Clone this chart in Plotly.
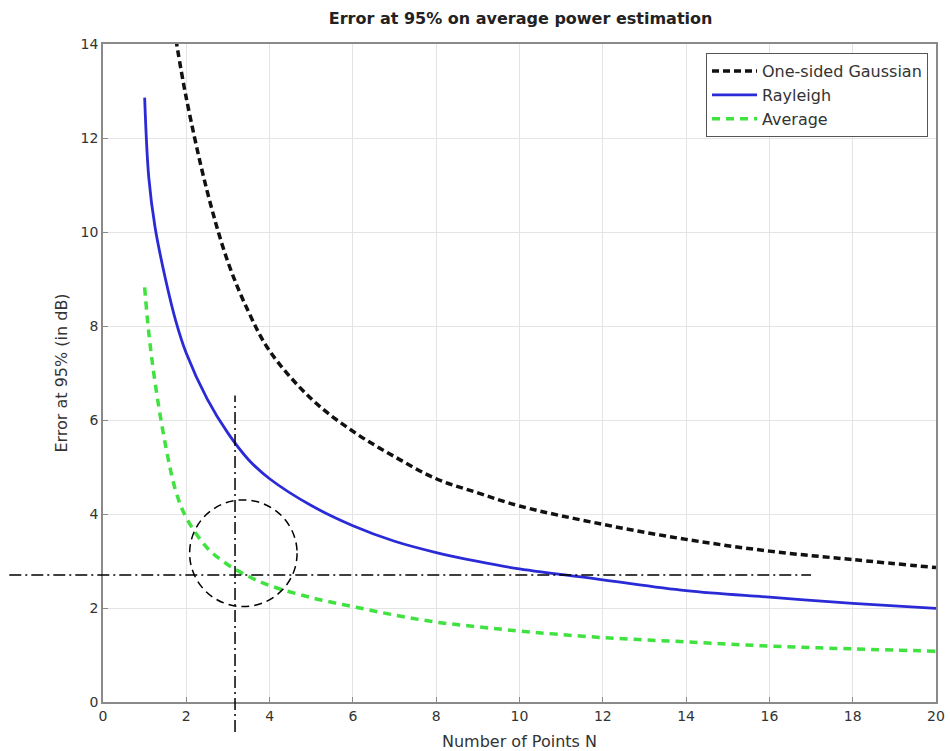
import plotly.graph_objects as go

# ---- data ----
n_gauss = [1.75, 2, 2.5, 3, 3.5, 4, 5, 6, 7, 8, 9, 10, 12, 14, 16, 18, 20]
err_gauss = [14.1, 12.85, 10.87, 9.36, 8.29, 7.47, 6.45, 5.76, 5.22, 4.75, 4.45, 4.17, 3.78, 3.46, 3.21, 3.03, 2.86]

n_rayl = [1, 1.1, 1.25, 1.5, 1.75, 2, 2.5, 3, 3.5, 4, 5, 6, 7, 8, 9, 10, 12, 14, 16, 18, 20]
err_rayl = [12.86, 11.15, 10.1, 9.0, 8.1, 7.42, 6.45, 5.72, 5.15, 4.75, 4.18, 3.75, 3.42, 3.18, 2.99, 2.83, 2.60, 2.37, 2.23, 2.10, 1.99]

n_avg = [1, 1.1, 1.25, 1.5, 1.75, 2, 2.5, 3, 3.5, 4, 5, 6, 7, 8, 9, 10, 12, 14, 16, 18, 20]
err_avg = [8.82, 7.85, 6.80, 5.47, 4.48, 3.92, 3.28, 2.92, 2.67, 2.48, 2.22, 2.03, 1.85, 1.70, 1.60, 1.51, 1.37, 1.28, 1.19, 1.13, 1.08]

x_ticks = [0, 2, 4, 6, 8, 10, 12, 14, 16, 18, 20]
y_ticks = [0, 2, 4, 6, 8, 10, 12, 14]

X_RANGE = [0, 20]
Y_RANGE = [0, 14]

# reference marks (dash-dot crosshair and dashed circle)
ref_n = 3.17
ref_err = 2.70
h_line_n = [-2.25, 17.0]
v_line_err = [-0.64, 6.52]
circle_n = [2.08, 4.66]
circle_err = [2.03, 4.30]

fig = go.Figure()
fig.add_trace(go.Scatter(x=n_gauss, y=err_gauss, mode="lines", name="One-sided Gaussian",
                         line=dict(color="#111111", width=3.5, dash="7px,4px", shape="spline")))
fig.add_trace(go.Scatter(x=n_rayl, y=err_rayl, mode="lines", name="Rayleigh",
                         line=dict(color="#2a2ad6", width=2.8, shape="spline")))
fig.add_trace(go.Scatter(x=n_avg, y=err_avg, mode="lines", name="Average",
                         line=dict(color="#3fe23f", width=3.5, dash="8px,6px", shape="spline")))

def px_x(v):
    return (v - X_RANGE[0]) / (X_RANGE[1] - X_RANGE[0])

def px_y(v):
    return (v - Y_RANGE[0]) / (Y_RANGE[1] - Y_RANGE[0])

dd = dict(color="black", width=1.5, dash="12px,4px,2px,4px")
fig.add_shape(type="line", xref="paper", yref="paper",
              x0=px_x(h_line_n[0]), x1=px_x(h_line_n[1]), y0=px_y(ref_err), y1=px_y(ref_err), line=dd)
fig.add_shape(type="line", xref="paper", yref="paper",
              x0=px_x(ref_n), x1=px_x(ref_n), y0=px_y(v_line_err[0]), y1=px_y(v_line_err[1]), line=dd)
fig.add_shape(type="circle", xref="x", yref="y",
              x0=circle_n[0], x1=circle_n[1], y0=circle_err[0], y1=circle_err[1],
              line=dict(color="black", width=1.5, dash="8px,5px"))

font_main = "DejaVu Sans, Liberation Sans, Arial, sans-serif"
axis_common = dict(showgrid=True, gridcolor="#e4e4e4", gridwidth=1, zeroline=False,
                   showline=True, linecolor="#8a8a8a", linewidth=1.5, mirror=True,
                   ticks="inside", ticklen=5, tickcolor="#8a8a8a", automargin=False,
                   tickfont=dict(family=font_main, size=14, color="#333333"))

fig.update_layout(
    width=950, height=751,
    margin=dict(l=103, r=14, t=44, b=49),
    paper_bgcolor="white", plot_bgcolor="white",
    title=dict(text="<b>Error at 95% on average power estimation</b>", x=0.548, xanchor="center",
               y=0.976, yanchor="middle", font=dict(family=font_main, size=16, color="#222222")),
    xaxis=dict(range=X_RANGE, tickvals=x_ticks, **axis_common,
               title=dict(text="Number of Points N", standoff=13,
                          font=dict(family=font_main, size=16, color="#333333"))),
    yaxis=dict(range=Y_RANGE, tickvals=y_ticks, **axis_common,
               title=dict(text="Error at 95% (in dB)", standoff=9,
                          font=dict(family=font_main, size=16, color="#333333"))),
    legend=dict(x=0.9904, y=0.986, xanchor="right", yanchor="top",
                bgcolor="white", bordercolor="#555555", borderwidth=1,
                font=dict(family=font_main, size=16, color="#333333"),
                tracegroupgap=0, itemwidth=45),
    showlegend=True,
)

fig.write_html("out.html")
